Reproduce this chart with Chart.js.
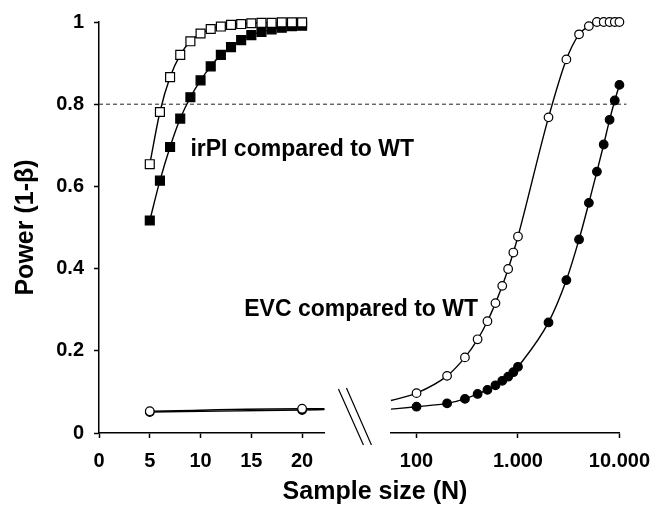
<!DOCTYPE html>
<html>
<head>
<meta charset="utf-8">
<script src="https://cdn.jsdelivr.net/npm/chart.js@4.4.1/dist/chart.umd.min.js"></script>
<style>
  html, body { margin: 0; padding: 0; background: #fff; }
  #wrap { width: 661px; height: 516px; }
</style>
</head>
<body>
<div id="wrap"><canvas id="chart"></canvas></div>
<script>
// irPI vs WT (linear part of the x axis)
const irpiN = [5, 6, 7, 8, 9, 10, 11, 12, 13, 14, 15, 16, 17, 18, 19, 20];
const irpiOpen = [0.654, 0.781, 0.866, 0.92, 0.953, 0.972, 0.983, 0.989, 0.993, 0.995, 0.997, 0.998, 0.998, 0.999, 0.999, 0.999];
const irpiFilled = [0.517, 0.614, 0.696, 0.765, 0.817, 0.858, 0.892, 0.92, 0.939, 0.956, 0.968, 0.976, 0.982, 0.986, 0.99, 0.991];

// EVC vs WT, small N (last point is where the fitted line meets the axis end)
const evcLowN = [5, 20, 22.2];
const evcLowOpen = [0.053, 0.059, 0.059];
const evcLowFilled = [0.051, 0.056, 0.057];

// EVC vs WT, large N (log part; first point is the fitted line start)
const evcN = [56, 100, 200, 300, 400, 500, 600, 700, 800, 900, 1000, 2000, 3000, 4000, 5000, 6000, 7000, 8000, 9000, 10000];
const evcOpen = [0.079, 0.097, 0.139, 0.184, 0.228, 0.272, 0.316, 0.358, 0.399, 0.439, 0.478, 0.768, 0.909, 0.97, 0.99, 1.0, 1.0, 1.0, 1.0, 1.0];
const evcFilled = [0.058, 0.064, 0.072, 0.083, 0.095, 0.105, 0.116, 0.127, 0.137, 0.148, 0.161, 0.269, 0.372, 0.471, 0.56, 0.636, 0.702, 0.762, 0.809, 0.847];

const yTicks = [0, 0.2, 0.4, 0.6, 0.8, 1];
const xLinTicks = [0, 5, 10, 15, 20];
const xLogTicks = [100, 1000, 10000];
const threshold = 0.8;

const FONT = "'Liberation Sans', Arial, sans-serif";
Chart.defaults.font.family = FONT;
Chart.defaults.color = "#000";

function pts(xs, ys) {
  return xs.map((x, i) => ({ x, y: ys[i] }));
}

function series(label, xs, ys, axis, style, filled, hideFirst, hideLast) {
  return {
    label,
    data: pts(xs, ys),
    xAxisID: axis,
    borderColor: "#000",
    borderWidth: 1.4,
    cubicInterpolationMode: "monotone",
    pointStyle: style,
    pointRadius: xs.map((_, i) =>
      (hideFirst && i === 0) || (hideLast && i === xs.length - 1) ? 0 : style === "rect" ? 6.3 : 4.3),
    pointBorderWidth: 1.2,
    pointBorderColor: "#000",
    pointBackgroundColor: filled ? "#000" : "#fff",
    clip: false,
  };
}

function dotThousands(v) {
  return String(v).replace(/\B(?=(\d{3})+(?!\d))/g, ".");
}

const extras = {
  id: "extras",
  beforeDatasetsDraw(chart) {
    const { ctx, chartArea, scales } = chart;
    const y = scales.y.getPixelForValue(threshold);
    ctx.save();
    ctx.strokeStyle = "#222";
    ctx.lineWidth = 1;
    ctx.setLineDash([4, 3]);
    ctx.beginPath();
    ctx.moveTo(chartArea.left, y);
    ctx.lineTo(chartArea.right + 7, y);
    ctx.stroke();
    ctx.restore();
  },
  afterDraw(chart) {
    const { ctx, chartArea, scales } = chart;
    ctx.save();
    // axis break marks
    const gx = scales.xGap.left;
    const b = chartArea.bottom;
    ctx.strokeStyle = "#000";
    ctx.lineWidth = 1.2;
    ctx.beginPath();
    ctx.moveTo(gx + 14, b - 44);
    ctx.lineTo(gx + 39, b + 12);
    ctx.moveTo(gx + 22, b - 45);
    ctx.lineTo(gx + 47, b + 12);
    ctx.stroke();

    ctx.fillStyle = "#000";
    ctx.textBaseline = "middle";
    ctx.textAlign = "left";
    ctx.font = `bold 23px ${FONT}`;
    ctx.fillText("irPI compared to WT", scales.xL.getPixelForValue(9), scales.y.getPixelForValue(0.69));
    ctx.fillText("EVC compared to WT", scales.xL.getPixelForValue(14.3), scales.y.getPixelForValue(0.3));

    ctx.textAlign = "center";
    ctx.font = `bold 25px ${FONT}`;
    ctx.fillText("Sample size (N)", 375, 492);
    ctx.restore();
  },
};

const tickFont = { size: 20, weight: "bold" };
const axisGrid = { display: true, drawOnChartArea: false, drawTicks: true, tickLength: 5, tickColor: "#000", tickWidth: 1.5 };
const axisBorder = { display: true, color: "#000", width: 1.5 };

new Chart(document.getElementById("chart"), {
  type: "line",
  data: {
    datasets: [
      series("irPI open", irpiN, irpiOpen, "xL", "rect", false, false, false),
      series("irPI filled", irpiN, irpiFilled, "xL", "rect", true, false, false),
      series("EVC open low", evcLowN, evcLowOpen, "xL", "circle", false, false, true),
      series("EVC filled low", evcLowN, evcLowFilled, "xL", "circle", true, false, true),
      series("EVC open", evcN, evcOpen, "xR", "circle", false, true, false),
      series("EVC filled", evcN, evcFilled, "xR", "circle", true, true, false),
    ],
  },
  options: {
    responsive: true,
    maintainAspectRatio: false,
    animation: false,
    layout: { padding: { left: 0, top: 22, right: 38, bottom: 0 } },
    plugins: { legend: { display: false }, tooltip: { enabled: false } },
    scales: {
      y: {
        type: "linear",
        position: "left",
        min: 0,
        max: 1,
        afterBuildTicks: (s) => { s.ticks = yTicks.map((value) => ({ value })); },
        afterFit: (s) => { s.width = 99; },
        ticks: { font: tickFont, padding: 10, color: "#000", callback: (v) => String(Number(v.toFixed(1))) },
        grid: axisGrid,
        border: axisBorder,
        title: {
          display: true,
          text: "Power (1-β)",
          font: { size: 25, weight: "bold" },
          padding: { top: 11, bottom: 0 },
          color: "#000",
        },
      },
      xL: {
        type: "linear",
        position: "bottom",
        stack: "x",
        stackWeight: 227,
        min: 0,
        max: 22.2,
        afterBuildTicks: (s) => { s.ticks = xLinTicks.map((value) => ({ value })); },
        afterFit: (s) => { s.height = 83; },
        ticks: { font: tickFont, padding: 11, color: "#000", maxRotation: 0 },
        grid: axisGrid,
        border: axisBorder,
      },
      xGap: {
        type: "linear",
        position: "bottom",
        stack: "x",
        stackWeight: 67,
        min: 0,
        max: 1,
        afterFit: (s) => { s.height = 83; },
        ticks: { display: false },
        grid: { display: false },
        border: { display: false },
      },
      xR: {
        type: "logarithmic",
        position: "bottom",
        stack: "x",
        stackWeight: 230,
        min: 56,
        max: 10000,
        afterBuildTicks: (s) => { s.ticks = xLogTicks.map((value) => ({ value })); },
        afterFit: (s) => { s.height = 83; },
        ticks: { font: tickFont, padding: 11, color: "#000", maxRotation: 0, callback: (v) => dotThousands(v) },
        grid: axisGrid,
        border: axisBorder,
      },
    },
  },
  plugins: [extras],
});
</script>
</body>
</html>
